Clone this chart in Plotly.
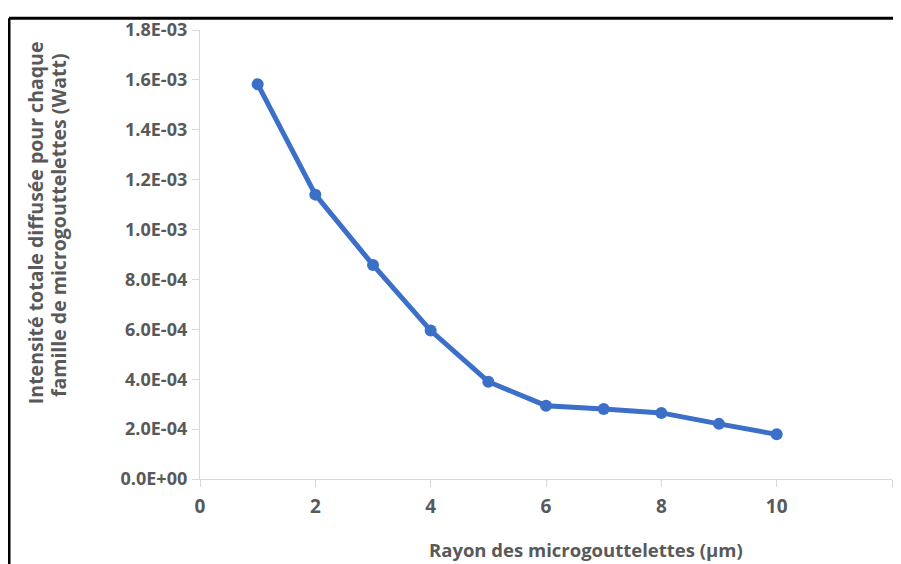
import plotly.graph_objects as go

rayon = [1, 2, 3, 4, 5, 6, 7, 8, 9, 10]
intensite = [1.583e-3, 1.140e-3, 0.858e-3, 0.595e-3, 0.390e-3,
             0.294e-3, 0.281e-3, 0.265e-3, 0.221e-3, 0.179e-3]

y_tickvals = [0, 0.2e-3, 0.4e-3, 0.6e-3, 0.8e-3, 1.0e-3, 1.2e-3, 1.4e-3, 1.6e-3, 1.8e-3]
y_ticktext = ["0.0E+00", "2.0E-04", "4.0E-04", "6.0E-04", "8.0E-04",
              "1.0E-03", "1.2E-03", "1.4E-03", "1.6E-03", "1.8E-03"]
x_tickvals = [0, 2, 4, 6, 8, 10, 12]

y_title_lines = ["Intensité totale diffusée pour chaque",
                 "famille de microgouttelettes (Watt)"]
x_title = "Rayon des microgouttelettes (µm)"

# page body has an 8px margin, so the figure is offset by 8px
OFF = 8
W, H = 901 - OFF, 564 - OFF
ML, MR, MT, MB = 200 - OFF, 9, 21 - OFF, 564 - 479
PW, PH = W - ML - MR, H - MT - MB

def px(x):
    return (x - OFF - ML) / PW

def py(y):
    return (H - MB - (y - OFF)) / PH

FONT = "'Open Sans', sans-serif"
GREY = "#595959"
AX = "#d9d9d9"
BLUE = "#3b6fc8"

fig = go.Figure()
fig.add_trace(go.Scatter(
    x=rayon, y=intensite, mode="lines+markers",
    line=dict(color=BLUE, width=5),
    marker=dict(color=BLUE, size=12),
    showlegend=False, hoverinfo="x+y",
))

fig.update_layout(
    width=W, height=H,
    margin=dict(l=ML, r=MR, t=MT, b=MB),
    paper_bgcolor="white", plot_bgcolor="white",
    font=dict(family=FONT, color=GREY),
    xaxis=dict(
        range=[0, 12], tickvals=x_tickvals, showgrid=False, zeroline=False,
        showline=True, linecolor=AX, linewidth=1.3,
        ticks="outside", ticklen=7, tickcolor=AX,
        tickfont=dict(size=19, family=FONT, color=GREY, weight="bold"),
        ticklabelstandoff=3,
    ),
    yaxis=dict(
        range=[0, 1.8e-3], tickvals=y_tickvals, ticktext=y_ticktext,
        showgrid=False, zeroline=False,
        showline=True, linecolor=AX, linewidth=1.3,
        ticks="outside", ticklen=7, tickcolor=AX,
        tickfont=dict(size=18, family=FONT, color=GREY, weight="bold"),
        ticklabelstandoff=1,
    ),
    annotations=[
        dict(text=y_title_lines[0],
             xref="paper", yref="paper", x=px(35), y=py(218),
             xanchor="center", yanchor="middle", textangle=-90, showarrow=False,
             font=dict(size=19.5, family=FONT, color=GREY, weight="bold")),
        dict(text=y_title_lines[1],
             xref="paper", yref="paper", x=px(58), y=py(220),
             xanchor="center", yanchor="middle", textangle=-90, showarrow=False,
             font=dict(size=19.5, family=FONT, color=GREY, weight="bold")),
        dict(text=x_title,
             xref="paper", yref="paper", x=px(586), y=py(551),
             xanchor="center", yanchor="middle", showarrow=False,
             font=dict(size=18.5, family=FONT, color=GREY, weight="bold")),
    ],
    shapes=[
        dict(type="line", xref="paper", yref="paper",
             x0=px(9), y0=py(9), x1=px(901 + 5), y1=py(9),
             line=dict(color="black", width=3)),
        dict(type="line", xref="paper", yref="paper",
             x0=px(9), y0=py(9), x1=px(9), y1=py(564 + 5),
             line=dict(color="black", width=3)),
    ],
)

fig.write_html("out.html")
